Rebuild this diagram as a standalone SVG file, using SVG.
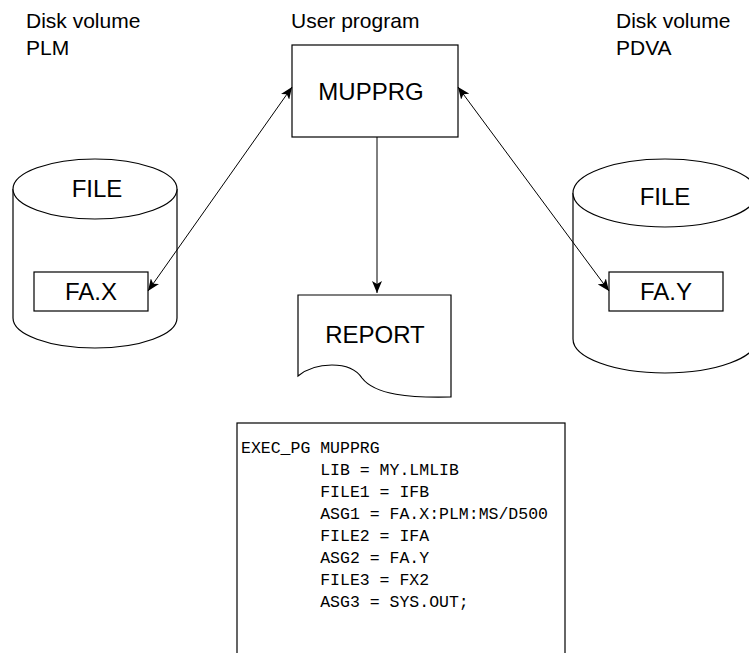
<svg xmlns="http://www.w3.org/2000/svg" width="749" height="653" viewBox="0 0 749 653">
<style>
.s{fill:#fff;stroke:#000;stroke-width:1.2}
.t{font-family:"Liberation Sans",Arial,sans-serif;font-size:24px;fill:#000}
.lb{font-family:"Liberation Sans",Arial,sans-serif;font-size:21px;fill:#000}
.c{font-family:"Liberation Mono","Courier New",monospace;font-size:16.5px;fill:#000;white-space:pre}
.e{fill:none;stroke:#000;stroke-width:1}
</style>
<defs>
<marker id="ah" viewBox="0 0 12 10" refX="12" refY="5" markerWidth="12" markerHeight="10" markerUnits="userSpaceOnUse" orient="auto-start-reverse">
<path d="M0,0 L12,5 L0,10 L3,5 z" fill="#000"/>
</marker>
</defs>
<rect width="749" height="653" fill="#fff"/>
<g id="labels">
<text class="lb" x="26" y="28">Disk volume</text>
<text class="lb" x="26" y="55">PLM</text>
<text class="lb" x="291" y="28">User program</text>
<text class="lb" x="616" y="28">Disk volume</text>
<text class="lb" x="616" y="55">PDVA</text>
</g>
<g id="disk-plm">
<path class="s" d="M13,189 L13,318 A82,30 0 0 0 177,318 L177,189"/>
<ellipse class="s" cx="95" cy="189" rx="82" ry="30"/>
<text class="t" x="97" y="197" text-anchor="middle">FILE</text>
</g>
<g id="fax">
<rect class="s" x="34" y="272" width="114" height="39"/>
<text class="t" x="91" y="300" text-anchor="middle">FA.X</text>
</g>
<g id="disk-pdva">
<path class="s" d="M573,193 L573,339 A92,34 0 0 0 757,339 L757,193"/>
<ellipse class="s" cx="665" cy="193" rx="92" ry="34"/>
<text class="t" x="665" y="205" text-anchor="middle">FILE</text>
</g>
<g id="fay">
<rect class="s" x="609" y="272" width="114" height="39"/>
<text class="t" x="666" y="300" text-anchor="middle">FA.Y</text>
</g>
<g id="mupprg">
<rect class="s" x="292" y="45" width="166" height="92"/>
<text class="t" x="371" y="100" text-anchor="middle">MUPPRG</text>
</g>
<g id="report">
<path class="s" d="M298,295 L451,295 L451,397 C410,398 375,395 362,378 C350,360 315,362 298,376 Z"/>
<text class="t" x="375" y="343" text-anchor="middle">REPORT</text>
</g>
<g id="connectors">
<line class="e" x1="148" y1="291" x2="292" y2="87" marker-start="url(#ah)" marker-end="url(#ah)"/>
<line class="e" x1="458" y1="87" x2="609" y2="291" marker-start="url(#ah)" marker-end="url(#ah)"/>
<line class="e" x1="377" y1="137" x2="377" y2="293" marker-end="url(#ah)"/>
</g>
<g id="jcl">
<rect class="s" x="237" y="423" width="328" height="240"/>
<text class="c" x="241" y="453">EXEC_PG MUPPRG</text>
<text class="c" x="241" y="475">        LIB = MY.LMLIB</text>
<text class="c" x="241" y="497">        FILE1 = IFB</text>
<text class="c" x="241" y="519">        ASG1 = FA.X:PLM:MS/D500</text>
<text class="c" x="241" y="541">        FILE2 = IFA</text>
<text class="c" x="241" y="563">        ASG2 = FA.Y</text>
<text class="c" x="241" y="585">        FILE3 = FX2</text>
<text class="c" x="241" y="607">        ASG3 = SYS.OUT;</text>
</g>
</svg>
